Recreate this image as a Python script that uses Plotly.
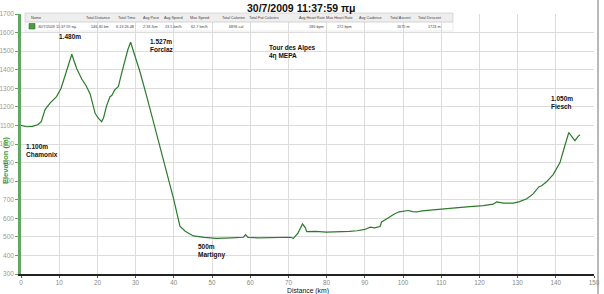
import plotly.graph_objects as go

# ---- data ----
distance_km = [0, 1.5, 3, 4.5, 5.3, 6.3, 7.6, 9.3, 10.5, 11.5, 12.5, 13.3, 14, 14.6, 15.9, 17, 18.1,
               19.4, 20.2, 21.1, 21.6, 22.4, 23.3, 23.8, 24.5, 25.5, 26.2, 27, 28, 28.7, 29.5, 31.2,
               33, 35.1, 36.4, 38.1, 40, 41.6, 43, 45.1, 48, 51.2, 55, 58.2, 58.8, 59.4, 62, 66,
               70.4, 71.3, 72.5, 73.7, 74.4, 74.8, 77, 80, 83.5, 86, 88, 90, 91.4, 92.5, 94, 94.4,
               96, 97.5, 99, 101.4, 102.5, 103.6, 105, 107, 109.7, 113, 117.5, 121, 123.6, 124.5,
               126.3, 128.9, 130.5, 132.4, 134, 135, 135.6, 136.3, 137.5, 139.3, 140.7, 141.1, 142,
               143, 143.4, 144.2, 145, 145.8, 146.3]
elevation_m = [1100, 1093, 1095, 1105, 1120, 1185, 1220, 1255, 1300, 1370, 1440, 1483, 1440, 1405,
               1350, 1315, 1270, 1165, 1140, 1120, 1140, 1205, 1255, 1262, 1290, 1310, 1370, 1440,
               1510, 1548, 1495, 1385, 1250, 1090, 980, 850, 700, 558, 530, 505, 497, 492, 495,
               498, 512, 497, 495, 497, 498, 492, 520, 570, 550, 528, 530, 526, 526, 530, 533, 540,
               552, 548, 556, 580, 600, 620, 635, 642, 636, 634, 640, 643, 650, 655, 663, 668, 676,
               688, 682, 682, 690, 705, 730, 755, 770, 775, 795, 835, 880, 900, 965, 1040, 1062,
               1040, 1018, 1040, 1050]

x_ticks = list(range(0, 151, 10))
y_ticks = list(range(300, 1701, 100))

title_text = "30/7/2009 11:37:59 πμ"
labels_text = ["1.480m", "1.527m<br>Forclaz", "Tour des Alpes<br>4η MEPA",
               "1.100m<br>Chamonix", "500m<br>Martigny", "1.050m<br>Fiesch"]
labels_km = [12.8, 33.2, 64.4, 0.8, 45.7, 138.2]
labels_elev = [1580, 1531, 1493, 964, 424, 1226]

table_headers = ["Total Distance", "Total Time", "Avg Pace", "Avg Speed", "Max Speed",
                 "Total Calories", "Total Fat Calories", "Avg Heart Rate", "Max Heart Rate",
                 "Avg Cadence", "Total Ascent", "Total Descent"]
table_values = ["146.30 km", "6:13:26.48", "2:33 /km", "23.5 km/h", "62.7 km/h", "6896 cal",
                "", "186 bpm", "172 bpm", "", "1675 m", "1724 m"]
table_name = "30/7/2009 11:37:59 πμ"

# ---- layout geometry (pixels) ----
W, H = 604, 294
ML, MR, MT, MB = 21, 10, 14, 20
PW, PH = W - ML - MR, H - MT - MB


def px(x):
    return (x - ML) / PW


def py(y):
    return (H - MB - y) / PH


FONT = "Liberation Sans, Arial, sans-serif"
LINE_GREEN = "#2c7a2c"
TBL = 3.8

fig = go.Figure()
fig.add_trace(go.Scatter(x=distance_km, y=elevation_m, mode="lines",
                         line=dict(color=LINE_GREEN, width=1.2), hoverinfo="skip",
                         showlegend=False))

annotations = []
for t, xk, ye in zip(labels_text, labels_km, labels_elev):
    annotations.append(dict(x=xk, y=ye, xref="x", yref="y", text="<b>" + t + "</b>",
                            showarrow=False, xanchor="left", yanchor="middle", align="left",
                            font=dict(family=FONT, size=6.5, color="#111111")))
annotations[0]["xanchor"] = "center"
annotations[0]["align"] = "center"

# title
annotations.append(dict(x=px(301), y=py(8), xref="paper", yref="paper", text="<b>" + title_text + "</b>",
                        showarrow=False, xanchor="center", yanchor="middle",
                        font=dict(family=FONT, size=10.5, color="#111111")))
# axis titles
annotations.append(dict(x=px(5), y=py(160), xref="paper", yref="paper", text="<b>Elevation (m)</b>",
                        textangle=-90, showarrow=False, xanchor="center", yanchor="middle",
                        font=dict(family=FONT, size=7.5, color="#3c9a3c")))
annotations.append(dict(x=px(308), y=py(290.5), xref="paper", yref="paper", text="Distance (km)",
                        showarrow=False, xanchor="center", yanchor="middle",
                        font=dict(family=FONT, size=6.8, color="#111111")))

# table text
col_right = [112, 137, 161, 185, 211, 247, 281, 327, 355, 384, 413, 444]
annotations.append(dict(x=px(29), y=py(18), xref="paper", yref="paper", text="Name",
                        showarrow=False, xanchor="left", yanchor="middle",
                        font=dict(family=FONT, size=TBL, color="#444444")))
annotations.append(dict(x=px(36), y=py(26.5), xref="paper", yref="paper", text=table_name,
                        showarrow=False, xanchor="left", yanchor="middle",
                        font=dict(family=FONT, size=TBL, color="#444444")))
for h, v, xr in zip(table_headers, table_values, col_right):
    annotations.append(dict(x=px(xr), y=py(18), xref="paper", yref="paper", text=h,
                            showarrow=False, xanchor="right", yanchor="middle",
                            font=dict(family=FONT, size=TBL, color="#444444")))
    if v:
        annotations.append(dict(x=px(xr - 1), y=py(26.5), xref="paper", yref="paper", text=v,
                                showarrow=False, xanchor="right", yanchor="middle",
                                font=dict(family=FONT, size=TBL, color="#444444")))

shapes = [
    dict(type="rect", xref="paper", yref="paper", x0=px(25), x1=px(453), y0=py(22), y1=py(13),
         fillcolor="#eeeeee", line=dict(color="#c8c8c8", width=0.6), layer="above"),
    dict(type="rect", xref="paper", yref="paper", x0=px(25), x1=px(453), y0=py(31), y1=py(22),
         fillcolor="rgba(0,0,0,0)", line=dict(color="#dddddd", width=0.6), layer="above"),
    dict(type="rect", xref="paper", yref="paper", x0=px(29), x1=px(35), y0=py(29), y1=py(23.5),
         fillcolor="#4f9a3f", line=dict(color="#2f6f2f", width=0.6), layer="above"),
    dict(type="line", xref="paper", yref="paper", x0=px(598), x1=px(598), y0=py(294), y1=py(0),
         line=dict(color="#8a8a8a", width=1.2)),
]

fig.update_layout(
    width=W, height=H,
    margin=dict(l=ML, r=MR, t=MT, b=MB, pad=0, autoexpand=False),
    paper_bgcolor="white", plot_bgcolor="white",
    font=dict(family=FONT),
    annotations=annotations,
    shapes=shapes,
    xaxis=dict(range=[0, 150], tickvals=x_ticks, ticktext=[str(v) for v in x_ticks],
               automargin=False,
               showgrid=True, gridcolor="#dcdcdc", gridwidth=1, zeroline=False,
               showline=True, linecolor="#222222", linewidth=1.5,
               ticks="outside", ticklen=2, tickcolor="#555555",
               tickfont=dict(size=6.3, color="#888888", family=FONT), fixedrange=True),
    yaxis=dict(range=[300, 1700], tickvals=y_ticks, ticktext=[str(v) for v in y_ticks],
               automargin=False,
               showgrid=True, gridcolor="#dcdcdc", gridwidth=1, zeroline=False,
               showline=True, linecolor="#5fa85f", linewidth=2.5,
               ticks="outside", ticklen=3, tickcolor="#5fa85f",
               tickfont=dict(size=6.5, color="#999999", family=FONT), fixedrange=True),
)

fig.write_html("out.html")
